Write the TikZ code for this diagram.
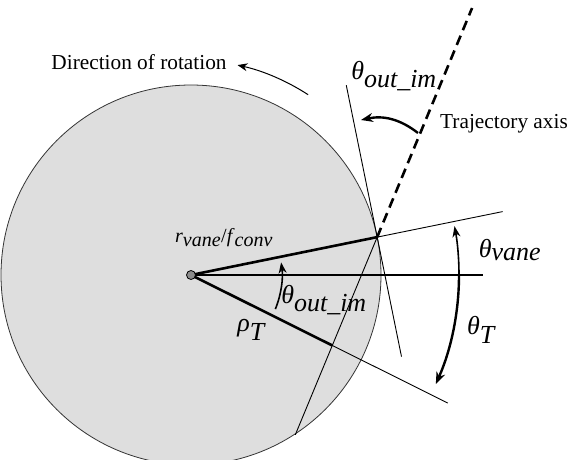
\documentclass[tikz,border=0pt]{standalone}
\usepackage{fontspec}
\setmainfont{Liberation Serif}
\usetikzlibrary{arrows.meta}
\definecolor{discgray}{HTML}{DEDEDE}
\definecolor{hubgray}{HTML}{8C8C8C}
\newcommand{\ang}[1]{\textit{θ}$_{\textit{#1}}$}

\begin{document}
\begin{tikzpicture}[x=1pt, y=1pt, font=\fontsize{21.3}{25}\selectfont]
  \useasboundingbox (0,0) rectangle (571,-460);
  % disc and reference points
  \coordinate (o) at (191,-275);
  \fill[discgray] (o) circle (190);
  \draw[line width=0.8pt, black!80] (o) circle (190);
  \path (o) ++(11.5:190) coordinate (tip);
  \path (o) ++(11.5:318) coordinate (vaneend);
  \path (o) ++(-26.5:287) coordinate (rhoend);
  \coordinate (horizend) at (483,-275);
  \path (tip) ++(101.5:155) coordinate (tantop);
  \path (tip) ++(-78.5:122) coordinate (tanbot);
  \path (tip) ++(67.5:248) coordinate (trajtop);
  \path (tip) ++(247.5:214) coordinate (trajbot);
  \coordinate (rhocut) at (intersection of o--rhoend and tip--trajbot);
  % lines
  \draw[line width=0.9pt] (tip) -- (vaneend);
  \draw[line width=1.3pt] (o) -- (horizend);
  \draw[line width=0.9pt] (rhocut) -- (rhoend);
  \draw[line width=0.9pt] (tantop) -- (tanbot);
  \draw[line width=0.9pt] (tip) -- (trajbot);
  \draw[line width=2.6pt, dash pattern=on 10pt off 6pt] (tip) -- (trajtop);
  \draw[line width=2.6pt] (o) -- (tip);
  \draw[line width=2.6pt] (o) -- (rhocut);
  \draw[fill=hubgray, line width=0.8pt] (o) circle (4.5);
  % angle arrows
  \path (o) ++(57:215) coordinate (rotstart);
  \draw[line width=1pt, -{Stealth[length=10pt, width=8pt]}] (rotstart) arc[start angle=57, end angle=77.5, radius=215];
  \path (o) ++(-22:91) coordinate (outstart);
  \draw[line width=1.6pt, -{Stealth[length=11pt, width=8pt]}] (outstart) arc[start angle=-22, end angle=8, radius=91];
  \path (o) ++(0:268) coordinate (vanestart);
  \draw[line width=1.6pt, -{Stealth[length=11pt, width=8pt]}] (vanestart) arc[start angle=0, end angle=10.5, radius=268];
  \draw[line width=2.4pt, -{Stealth[length=12pt, width=9pt]}] (vanestart) arc[start angle=0, end angle=-24, radius=268];
  \coordinate (trajhook) at (418,-133);
  \coordinate (tanhook) at (361,-120);
  \draw[line width=2.4pt, -{Stealth[length=12pt, width=9pt]}] (trajhook) to[bend right=25] (tanhook);
  % labels
  \node (rotlabel) at (139,-62) {Direction of rotation};
  \node (trajlabel) at (504,-124) {Trajectory axis};
  \node (outtop) [font=\fontsize{26}{30}\selectfont] at (394,-76) {\ang{out\_im}};
  \node (outlow) [font=\fontsize{26}{30}\selectfont] at (324,-300) {\ang{out\_im}};
  \node (vanelabel) [font=\fontsize{26}{30}\selectfont] at (510,-250) {\ang{vane}};
  \node (tlabel) [font=\fontsize{26}{30}\selectfont] at (481,-330) {\ang{T}};
  \node (rholabel) [font=\fontsize{26}{30}\selectfont] at (251,-330) {\textit{ρ}$_{\textit{T}}$};
  \node (ratio) [font=\fontsize{20}{24}\selectfont] at (224,-238) {\textit{r}$_{\textit{vane}}$/\textit{f}$_{\textit{conv}}$};
\end{tikzpicture}
\end{document}
